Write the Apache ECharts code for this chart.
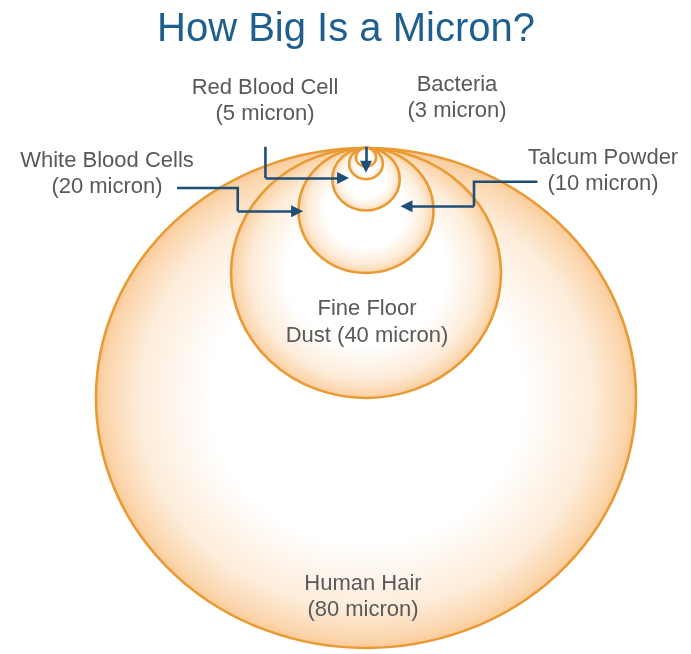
<!DOCTYPE html>
<html>
<head>
<meta charset="utf-8">
<script src="https://cdn.jsdelivr.net/npm/echarts@6/dist/echarts.min.js"></script>
<style>
  html, body { margin: 0; padding: 0; background: #ffffff; }
  #chart { width: 691px; height: 654px; }
</style>
</head>
<body>
<div id="chart"></div>
<script>
// ---- data ----
var titleText = 'How Big Is a Micron?';
var itemNames = ['Human Hair', 'Fine Floor Dust', 'White Blood Cells', 'Talcum Powder', 'Red Blood Cell', 'Bacteria'];
var diameters = [80, 40, 20, 10, 5, 3]; // micron
var labelLines = [
  ['Human Hair', '(80 micron)'],
  ['Fine Floor', 'Dust (40 micron)'],
  ['White Blood Cells', '(20 micron)'],
  ['Talcum Powder', '(10 micron)'],
  ['Red Blood Cell', '(5 micron)'],
  ['Bacteria', '(3 micron)']
];
// arrow paths in chart units (micron; x from circle centre, y down from the common top)
var arrowPaths = [
  [[5.7, -5.76], [0, -5.76], [0, 3.0]],                         // Bacteria
  [[-14.9, -3.0], [-14.9, 4.8], [-3.4, 4.8]],                   // Red Blood Cell
  [[-28.0, 6.4], [-19.0, 6.4], [-19.0, 10.1], [-10.2, 10.1]],   // White Blood Cells
  [[25.4, 5.4], [16.0, 5.4], [16.0, 9.3], [6.0, 9.3]]           // Talcum Powder
];

// ---- layout ----
var CX = 366, TOP = 148, SX = 6.75, SY = 6.25;
var X_MIN = -48, X_MAX = 46;
var labelPos = [
  [363, 584, 610],
  [367, 309, 336],
  [107, 161, 187],
  [603, 158, 184],
  [265, 88, 114],
  [457, 85, 111]
];

var chart = echarts.init(document.getElementById('chart'), null, { renderer: 'canvas' });

function circleFill() {
  return new echarts.graphic.RadialGradient(0.5, 0.5, 0.5, [
    { offset: 0, color: '#ffffff' },
    { offset: 0.58, color: '#ffffff' },
    { offset: 0.84, color: '#fdecd9' },
    { offset: 0.96, color: '#fbd6ad' },
    { offset: 1, color: '#f9c995' }
  ]);
}

var graphics = [];
labelLines.forEach(function (lines, i) {
  var p = labelPos[i];
  graphics.push({
    type: 'text', x: p[0], y: p[1], z: 100,
    style: { text: lines[0], fill: '#595959', font: '22px "Liberation Sans", Arial, sans-serif', align: 'center', verticalAlign: 'middle' }
  });
  graphics.push({
    type: 'text', x: p[0], y: p[2], z: 100,
    style: { text: lines[1], fill: '#595959', font: '22px "Liberation Sans", Arial, sans-serif', align: 'center', verticalAlign: 'middle' }
  });
});
graphics.push({
  type: 'text', x: 346, y: 30, z: 100,
  style: { text: titleText, fill: '#1f5f8f', font: '40px "Liberation Sans", Arial, sans-serif', align: 'center', verticalAlign: 'middle' }
});

var arrowBodies = arrowPaths.map(function (p) { return { coords: p.slice(0, p.length - 1) }; });
var arrowTips = arrowPaths.map(function (p) { return { coords: p.slice(p.length - 2) }; });

var arrowLineStyle = { color: '#1f4e79', width: 2.6, opacity: 1, curveness: 0 };

var option = {
  backgroundColor: '#ffffff',
  animation: false,
  grid: {
    left: CX + X_MIN * SX, width: (X_MAX - X_MIN) * SX, top: TOP, height: 80 * SY,
    show: false, containLabel: false, outerBoundsMode: 'none'
  },
  xAxis: { type: 'value', min: X_MIN, max: X_MAX, show: false },
  yAxis: { type: 'value', min: 0, max: 80, inverse: true, show: false },
  graphic: graphics,
  series: [
    {
      type: 'custom',
      coordinateSystem: 'cartesian2d',
      clip: false,
      data: diameters.map(function (d, i) { return { name: itemNames[i], value: [0, d] }; }),
      encode: { x: 0, y: 1 },
      renderItem: function (params, api) {
        var d = api.value(1);
        var c = api.coord([0, d / 2]);
        var s = api.size([d / 2, d / 2]);
        var rx = Math.abs(s[0]), ry = Math.abs(s[1]);
        return {
          type: 'circle',
          x: c[0], y: c[1],
          scaleX: 1, scaleY: ry / rx,
          shape: { cx: 0, cy: 0, r: rx },
          style: { fill: circleFill(), stroke: '#e99a33', lineWidth: 2.6 }
        };
      }
    },
    {
      type: 'lines',
      coordinateSystem: 'cartesian2d',
      polyline: true,
      lineStyle: arrowLineStyle,
      z: 10,
      data: arrowBodies
    },
    {
      type: 'lines',
      coordinateSystem: 'cartesian2d',
      symbol: ['none', 'triangle'],
      symbolSize: [12, 12],
      lineStyle: arrowLineStyle,
      itemStyle: { color: '#1f4e79' },
      z: 10,
      data: arrowTips
    }
  ]
};
chart.setOption(option);
</script>
</body>
</html>
